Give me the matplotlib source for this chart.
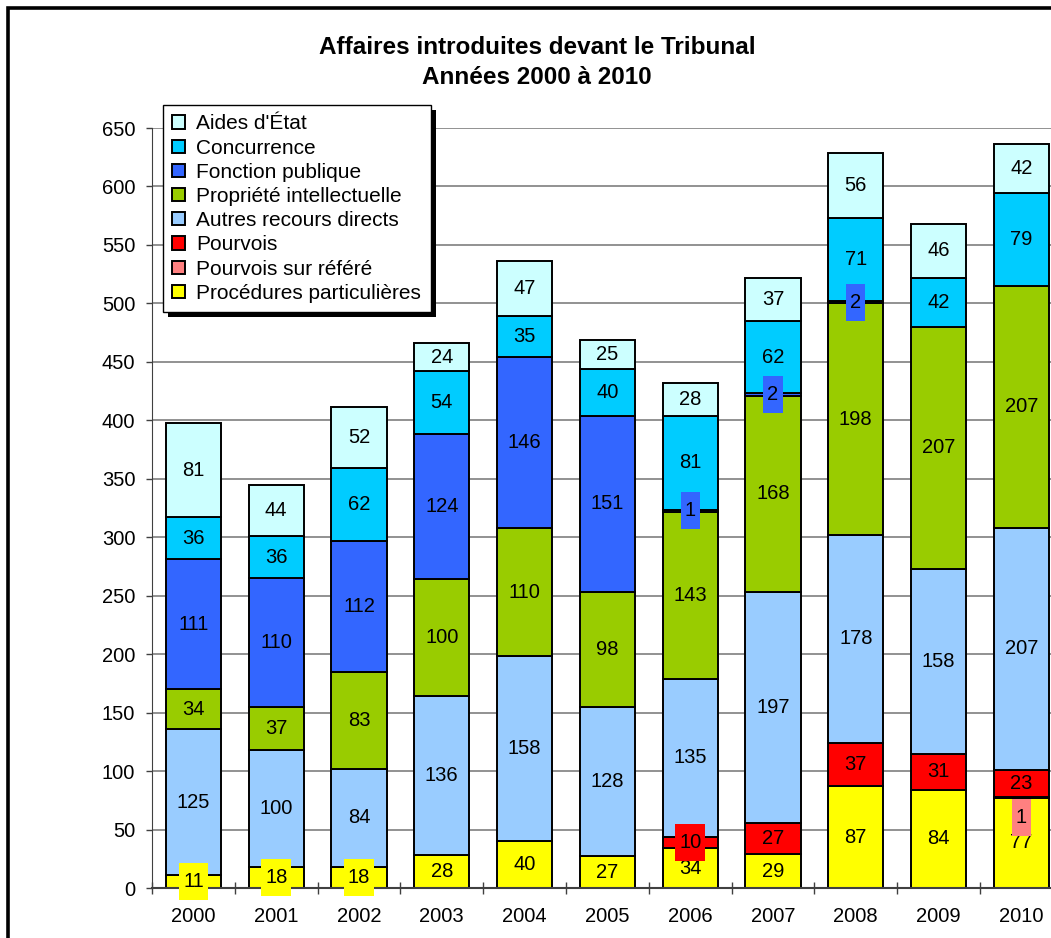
import numpy as np
import matplotlib.pyplot as plt
from matplotlib.patches import Rectangle
from matplotlib.path import Path
from matplotlib.transforms import IdentityTransform

plt.rcParams['font.family'] = ['Liberation Sans', 'DejaVu Sans']

years = ['2000', '2001', '2002', '2003', '2004', '2005', '2006', '2007', '2008', '2009', '2010']

# series, bottom to top
proc_part = [11, 18, 18, 28, 40, 27, 34, 29, 87, 84, 77]
pourvois_refere = [0, 0, 0, 0, 0, 0, 0, 0, 0, 0, 1]
pourvois = [0, 0, 0, 0, 0, 0, 10, 27, 37, 31, 23]
autres_recours = [125, 100, 84, 136, 158, 128, 135, 197, 178, 158, 207]
propriete_int = [34, 37, 83, 100, 110, 98, 143, 168, 198, 207, 207]
fonction_pub = [111, 110, 112, 124, 146, 151, 1, 2, 2, 0, 0]
concurrence = [36, 36, 62, 54, 35, 40, 81, 62, 71, 42, 79]
aides_etat = [81, 44, 52, 24, 47, 25, 28, 37, 56, 46, 42]

series = [
    ('Procédures particulières', proc_part, '#FFFF00'),
    ('Pourvois sur référé', pourvois_refere, '#FF8080'),
    ('Pourvois', pourvois, '#FF0000'),
    ('Autres recours directs', autres_recours, '#99CCFF'),
    ('Propriété intellectuelle', propriete_int, '#99CC00'),
    ('Fonction publique', fonction_pub, '#3366FF'),
    ('Concurrence', concurrence, '#00CCFF'),
    ('Aides d\'État', aides_etat, '#CCFFFF'),
]

# label moved by hand in the original (pixels)
label_shift = {('Pourvois sur référé', '2010'): -20}

W, H = 1051, 938
fig = plt.figure(figsize=(W / 100, H / 100), dpi=100)
ax = fig.add_axes([152 / W, 50 / H, 910.8 / W, 760 / H])


def label_box(x0, y0, width, height, mutation_size):
    px = 0.2 * mutation_size
    py = 0.45 * mutation_size
    x0, y0 = x0 - px, y0 - py
    x1, y1 = x0 + width + 2 * px, y0 + height + 2 * py
    return Path([(x0, y0), (x1, y0), (x1, y1), (x0, y1), (x0, y0)], closed=True)


x = np.arange(len(years))
bottom = np.zeros(len(years))
handles = []
for name, vals, color in series:
    vals = np.array(vals, dtype=float)
    bars = ax.bar(x, vals, 0.665, bottom=bottom, color=color,
                  edgecolor='black', linewidth=1.4, label=name, zorder=2)
    handles.append(bars)
    for i, v in enumerate(vals):
        if v <= 0:
            continue
        dy = label_shift.get((name, years[i]), 0)
        box = None
        if v < 20:
            box = dict(boxstyle=label_box, facecolor=color, edgecolor='none')
        ax.annotate(f'{int(v)}', (x[i], bottom[i] + v / 2), xytext=(0, dy),
                    textcoords='offset pixels', ha='center', va='center',
                    fontsize=14.5, zorder=5, bbox=box)
    bottom += vals

ax.set_xlim(-0.5, len(years) - 0.5)
ax.set_ylim(0, 650)
ax.set_yticks(np.arange(0, 651, 50))
ax.yaxis.grid(True, color='#7f7f7f', linewidth=1.2, zorder=0)
ax.set_axisbelow(True)

ax.set_xticks(x)
ax.set_xticklabels(years)
ax.set_xticks(np.arange(-0.5, len(years), 1), minor=True)
ax.tick_params(axis='x', which='major', length=0, pad=14, labelsize=14.5)
ax.tick_params(axis='x', which='minor', direction='inout', length=8,
               width=1, color='#404040')
ax.tick_params(axis='y', direction='out', length=4, width=1, pad=8,
               labelsize=14.5, color='#404040')

for side in ['top', 'right']:
    ax.spines[side].set_visible(False)
ax.spines['left'].set_color('#404040')
ax.spines['bottom'].set_color('#404040')
ax.spines['bottom'].set_linewidth(1.5)

leg = ax.legend(handles[::-1], [s[0] for s in series][::-1],
                loc='upper left', bbox_to_anchor=(163 / W, 1 - 105 / H),
                bbox_transform=fig.transFigure, borderaxespad=0,
                fontsize=15, frameon=True, fancybox=False, framealpha=1,
                handlelength=0.6, handleheight=0.6, handletextpad=0.55,
                labelspacing=0.25, borderpad=0.45)
leg.get_frame().set_edgecolor('black')
leg.get_frame().set_facecolor('white')
leg.get_frame().set_linewidth(1.0)
leg.set_zorder(10)

fig.text(537 / W, 1 - 47 / H, 'Affaires introduites devant le Tribunal',
         ha='center', va='center', fontsize=17.5, fontweight='bold')
fig.text(537 / W, 1 - 78 / H, 'Années 2000 à 2010',
         ha='center', va='center', fontsize=17.5, fontweight='bold')

fig.add_artist(Rectangle((8 / W, -0.1), 1.2, 1.1 - 8 / H, fill=False,
                         edgecolor='black', linewidth=2.6,
                         transform=fig.transFigure))

# legend drop shadow, offset like the original
fig.canvas.draw()
bb = leg.get_frame().get_window_extent()
ax.add_patch(Rectangle((bb.x0 + 5, bb.y0 - 5), bb.width, bb.height,
                       facecolor='black', edgecolor='none', zorder=9,
                       transform=IdentityTransform(), clip_on=False))

fig.savefig('out.png', dpi=100)
